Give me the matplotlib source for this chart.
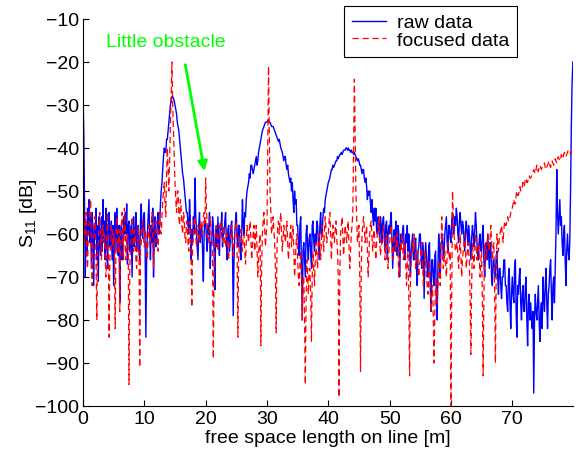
import numpy as np
import matplotlib
matplotlib.use('Agg')
import matplotlib.pyplot as plt

plt.rcParams['font.family'] = ['Liberation Sans', 'DejaVu Sans']
plt.rcParams['mathtext.fontset'] = 'custom'
plt.rcParams['mathtext.rm'] = 'Liberation Sans'
plt.rcParams['mathtext.it'] = 'Liberation Sans:italic'

# samples every 0.125 m, one row per metre
x_step = 0.125

raw_db = [
    -28, -36, -52, -70, -58, -64, -54, -60,
    -52, -62, -56, -68, -55, -60, -72, -58,
    -60, -54, -66, -58, -71, -56, -62, -65,
    -56, -64, -52, -61, -57, -66, -54, -60,
    -68, -58, -55, -63, -62, -57, -66, -58,
    -72, -60, -55, -64, -54, -60, -65, -58,
    -76, -62, -58, -66, -63, -56, -60, -55,
    -60, -53, -67, -58, -57, -64, -62, -58,
    -70, -60, -56, -63, -60, -55, -64, -59,
    -58, -64, -66, -57, -53, -60, -61, -56,
    -55, -62, -84, -66, -60, -56, -52, -60,
    -66, -58, -62, -54, -70, -60, -56, -63,
    -62, -57, -55, -60, -58, -53, -50, -48,
    -45, -42, -40, -41, -41, -38, -38, -36,
    -34, -32, -30, -29, -28, -28, -28.5, -29,
    -30, -31, -32, -34, -35, -36, -38, -40,
    -42, -44, -46, -47, -49, -51, -53, -55,
    -55, -58, -60, -52, -57, -66, -59, -62,
    -56, -60, -47, -55, -60, -63, -66, -58,
    -55, -62, -59, -58, -64, -71, -60, -57,
    -57, -61, -64, -58, -60, -55, -68, -62,
    -62, -56, -58, -64, -73, -60, -58, -63,
    -56, -62, -65, -58, -59, -55, -63, -60,
    -60, -57, -55, -62, -66, -59, -58, -64,
    -62, -58, -57, -64, -79, -66, -60, -57,
    -55, -61, -63, -58, -58, -64, -66, -60,
    -52, -58, -60, -55, -56, -52, -50, -49,
    -48, -46, -47, -44, -44, -45, -46, -45,
    -44, -43, -42, -44, -43, -41, -40, -39,
    -38, -37, -36, -35.5, -35, -34.5, -34, -34,
    -34, -33.5, -33.5, -34, -34, -34.5, -35, -35,
    -35, -35.5, -36, -36.5, -37, -37.5, -38, -38.5,
    -38, -39, -40, -40.5, -41, -42, -43, -42,
    -42, -44, -45, -44, -46, -47, -48, -47,
    -50, -48, -52, -55, -50, -53, -52, -58,
    -58, -62, -65, -58, -56, -68, -80, -64,
    -62, -66, -70, -60, -58, -63, -66, -61,
    -60, -64, -68, -58, -57, -62, -64, -60,
    -62, -57, -58, -62, -66, -58, -55, -60,
    -60, -56, -54, -55, -52, -51, -50, -49,
    -48, -47.5, -47, -46, -45, -45, -44, -44.5,
    -44, -43.5, -43, -43, -42, -42.5, -42, -41.5,
    -41.5, -41, -41.5, -41, -40.5, -40.5, -40.5, -40,
    -40, -40.5, -40, -40.5, -40.5, -41, -40.5, -41,
    -41, -41.5, -41, -41.5, -42, -42.5, -43, -42.5,
    -43, -44, -44, -45, -46, -45, -45, -47,
    -48, -47, -49, -52, -50, -51, -50, -53,
    -55, -52, -56, -58, -54, -57, -54, -59,
    -60, -56, -58, -62, -56, -58, -62, -57,
    -56, -60, -64, -58, -57, -66, -60, -58,
    -60, -57, -55, -61, -68, -62, -59, -64,
    -57, -62, -65, -58, -60, -70, -63, -60,
    -62, -59, -58, -64, -66, -60, -62, -58,
    -64, -60, -62, -70, -65, -62, -60, -66,
    -66, -62, -61, -68, -72, -64, -63, -60,
    -60, -65, -68, -62, -64, -75, -66, -62,
    -65, -68, -70, -63, -62, -72, -78, -66,
    -66, -70, -72, -65, -64, -76, -80, -68,
    -60, -64, -70, -62, -62, -60, -66, -64,
    -60, -58, -56, -62, -64, -58, -58, -61,
    -62, -57, -55, -60, -60, -56, -58, -54,
    -56, -60, -62, -57, -55, -58, -60, -57,
    -58, -61, -64, -59, -57, -60, -62, -58,
    -60, -63, -66, -61, -58, -60, -63, -59,
    -55, -58, -62, -66, -66, -61, -60, -64,
    -64, -60, -58, -66, -70, -64, -62, -66,
    -60, -64, -68, -62, -63, -70, -72, -66,
    -66, -69, -70, -65, -64, -70, -74, -68,
    -68, -72, -75, -70, -70, -66, -66, -72,
    -72, -76, -78, -70, -68, -76, -82, -74,
    -70, -74, -76, -68, -66, -78, -84, -72,
    -74, -70, -68, -76, -80, -74, -72, -78,
    -78, -72, -70, -80, -86, -76, -74, -80,
    -76, -80, -82, -78, -97, -80, -74, -78,
    -80, -76, -72, -80, -85, -78, -76, -82,
    -70, -75, -78, -72, -68, -76, -82, -74,
    -72, -68, -66, -74, -80, -72, -70, -76,
    -68, -60, -45, -55, -60, -56, -52, -58,
    -56, -62, -65, -60, -58, -66, -72, -64,
    -60, -64, -66, -62, -50, -35, -25, -20,
]

focused_db = [
    -43, -55, -62, -58, -55, -66, -68, -58,
    -58, -54, -52, -64, -72, -62, -60, -56,
    -56, -66, -80, -64, -62, -57, -55, -60,
    -66, -60, -58, -62, -60, -66, -70, -62,
    -55, -62, -84, -66, -62, -58, -58, -63,
    -60, -66, -82, -62, -56, -60, -64, -59,
    -78, -62, -58, -55, -62, -66, -54, -58,
    -66, -62, -60, -64, -95, -68, -62, -58,
    -56, -60, -64, -59, -60, -66, -68, -62,
    -58, -62, -91, -64, -62, -58, -57, -61,
    -63, -59, -60, -64, -66, -60, -58, -62,
    -62, -58, -55, -60, -68, -63, -60, -57,
    -58, -61, -64, -58, -55, -59, -60, -56,
    -52, -50, -48, -53, -56, -46, -40, -45,
    -50, -42, -35, -28, -20, -30, -36, -42,
    -48, -52, -55, -50, -50, -56, -58, -52,
    -54, -58, -60, -55, -56, -61, -62, -57,
    -58, -62, -64, -58, -57, -66, -77, -62,
    -60, -57, -56, -60, -63, -59, -58, -61,
    -62, -58, -57, -60, -60, -56, -55, -58,
    -47, -54, -58, -62, -62, -58, -56, -60,
    -60, -66, -89, -68, -62, -59, -58, -61,
    -64, -61, -60, -57, -57, -61, -62, -59,
    -58, -62, -63, -60, -60, -64, -66, -62,
    -62, -59, -58, -62, -65, -61, -60, -58,
    -57, -64, -84, -66, -62, -60, -59, -62,
    -64, -61, -60, -64, -67, -62, -58, -60,
    -62, -59, -57, -61, -66, -63, -60, -58,
    -64, -61, -58, -63, -70, -65, -62, -60,
    -86, -68, -60, -57, -55, -59, -63, -60,
    -58, -40, -21, -35, -50, -55, -60, -58,
    -56, -59, -62, -68, -83, -64, -58, -57,
    -60, -57, -55, -60, -64, -61, -58, -60,
    -62, -59, -57, -62, -66, -63, -60, -58,
    -63, -60, -58, -64, -70, -66, -62, -60,
    -66, -70, -72, -67, -64, -70, -80, -70,
    -70, -80, -95, -76, -66, -70, -74, -68,
    -68, -74, -85, -70, -64, -68, -72, -66,
    -62, -65, -68, -63, -60, -63, -66, -62,
    -58, -61, -64, -59, -56, -59, -62, -60,
    -60, -57, -55, -60, -66, -61, -58, -60,
    -62, -59, -57, -61, -64, -70, -98, -70,
    -60, -58, -56, -61, -65, -61, -58, -60,
    -62, -59, -57, -63, -68, -64, -60, -58,
    -55, -40, -24, -38, -50, -56, -62, -60,
    -58, -70, -92, -68, -60, -58, -56, -59,
    -62, -60, -58, -64, -70, -65, -60, -58,
    -57, -61, -64, -60, -59, -63, -66, -62,
    -60, -58, -56, -61, -65, -63, -62, -60,
    -58, -62, -66, -62, -60, -64, -68, -64,
    -62, -60, -58, -62, -66, -63, -60, -62,
    -64, -62, -60, -65, -70, -66, -62, -64,
    -60, -63, -66, -63, -62, -67, -72, -66,
    -64, -75, -93, -72, -66, -64, -62, -64,
    -60, -64, -68, -65, -64, -67, -70, -67,
    -66, -64, -62, -67, -72, -68, -64, -66,
    -70, -72, -74, -70, -66, -72, -78, -73,
    -72, -80, -90, -78, -70, -73, -76, -72,
    -66, -69, -72, -63, -56, -62, -68, -66,
    -64, -67, -70, -65, -62, -64, -66, -64,
    -100, -75, -50, -55, -60, -62, -64, -63,
    -62, -65, -68, -64, -60, -65, -70, -66,
    -64, -62, -60, -64, -68, -65, -62, -64,
    -66, -75, -88, -72, -62, -65, -68, -64,
    -60, -63, -66, -64, -62, -66, -70, -66,
    -64, -76, -93, -74, -62, -64, -66, -63,
    -60, -62, -64, -61, -58, -62, -66, -63,
    -62, -74, -90, -70, -60, -62, -64, -61,
    -60, -59, -58, -60, -62, -59, -57, -58,
    -58, -57, -56, -57, -57, -56, -55, -54,
    -54, -53, -52, -53, -53, -51, -50, -51,
    -51, -50, -49, -50, -50, -49, -48, -49,
    -48.5, -47.5, -47, -48, -48, -47, -46.5, -47,
    -47, -46.5, -46, -45.5, -45, -45.5, -46, -45,
    -44, -45, -45.5, -44.5, -44, -44.5, -45, -44.5,
    -44.5, -44, -43.5, -44.5, -45, -44.5, -44, -43.5,
    -43, -44, -44.5, -43.5, -43, -43.5, -44, -43.5,
    -42.5, -43, -43.5, -42.5, -42, -42.5, -43, -42.5,
    -41.5, -42, -42.5, -41.5, -41, -41.5, -42, -41.5,
    -41, -40.5, -40.5, -41, -41.5, -40.5, -40, -40,
]

x_raw = np.arange(len(raw_db)) * x_step
x_foc = np.arange(len(focused_db)) * x_step

fig = plt.figure(figsize=(5.79, 4.56), dpi=100)
ax = fig.add_axes([83 / 579, 1 - 407 / 456, 490 / 579, 387 / 456])

ax.plot(x_raw, raw_db, color='#0000ff', lw=1.0, label='raw data')
ax.plot(x_foc, focused_db, color='#ff0000', lw=0.9, ls=(0, (5, 3)), label='focused data')

ax.set_xlim(0, 79.9)
ax.set_ylim(-100, -10)
ax.set_xticks(np.arange(0, 71, 10))
ax.set_yticks(np.arange(-100, -9, 10))
ax.tick_params(direction='in', length=4, labelsize=14, width=0.8, pad=3)
for side in ['top', 'right']:
    ax.spines[side].set_visible(False)
ax.spines['left'].set_linewidth(0.8)
ax.spines['bottom'].set_linewidth(0.8)

ax.set_xlabel('free space length on line [m]', fontsize=14, labelpad=1)
ax.set_ylabel('S$_{11}$ [dB]', fontsize=14, labelpad=-3)

ax.text(3.7, -15.2, 'Little obstacle', color='#00ff00', fontsize=14, va='center', ha='left')
ax.annotate('', xy=(19.9, -46), xytext=(16.6, -20),
            arrowprops=dict(arrowstyle='-|>', color='#00ff00', lw=2, mutation_scale=14))

leg = fig.legend(loc='upper right', bbox_to_anchor=(517 / 579, 1 - 7 / 456),
                 bbox_transform=fig.transFigure, borderaxespad=0, fontsize=14,
                 fancybox=False, framealpha=1, edgecolor='black', handlelength=1.75,
                 handletextpad=0.55, borderpad=0.4, labelspacing=0.0)
leg.get_frame().set_linewidth(0.8)

fig.savefig('out.png', dpi=100)
